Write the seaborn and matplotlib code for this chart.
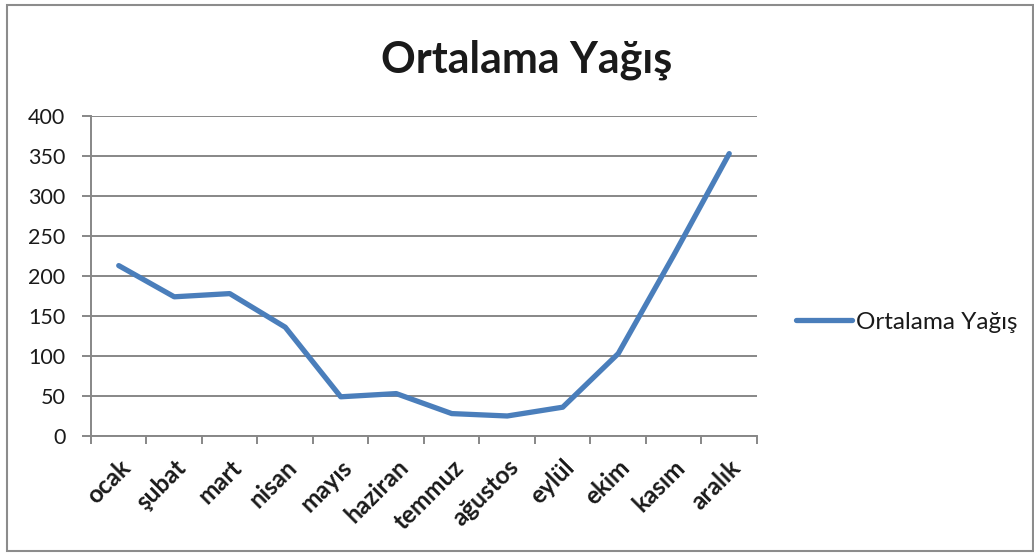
import pandas as pd
import matplotlib.pyplot as plt
import seaborn as sns
from matplotlib.patches import Rectangle

# veri
aylar = ['ocak', 'şubat', 'mart', 'nisan', 'mayıs', 'haziran',
         'temmuz', 'ağustos', 'eylül', 'ekim', 'kasım', 'aralık']
yagis = [213, 174, 178, 136, 49, 53, 28, 25, 36, 103, 226, 353]
y_ticks = [0, 50, 100, 150, 200, 250, 300, 350, 400]

df = pd.DataFrame({'ay': aylar, 'yagis': yagis})

sns.set_theme(style='whitegrid')
plt.rcParams['font.family'] = ['Lato', 'DejaVu Sans']
plt.rcParams['text.color'] = '#1a1a1a'

gri = '#878787'

fig = plt.figure(figsize=(10.34, 5.53), dpi=100)
ax = fig.add_axes([0.088, 0.2116, 0.6441, 0.5786])

sns.lineplot(data=df, x='ay', y='yagis', color='#4a7ebb', linewidth=3.8,
             label='Ortalama Yağış', sort=False, ax=ax)

ax.set_xlim(-0.5, len(aylar) - 0.5)
ax.set_ylim(0, 400)
ax.set_yticks(y_ticks)
ax.set_xticks(range(len(aylar)))
ax.set_xticklabels(aylar, rotation=45, ha='right', rotation_mode='anchor',
                   fontweight='bold')
ax.set_xticks([i - 0.5 for i in range(len(aylar) + 1)], minor=True)
ax.set_xlabel('')
ax.set_ylabel('')

# Excel benzeri eksenler
ax.xaxis.grid(False)
ax.yaxis.grid(True, color=gri, linewidth=1.4)
for s in ['top', 'right']:
    ax.spines[s].set_visible(False)
for s in ['left', 'bottom']:
    ax.spines[s].set_color(gri)
    ax.spines[s].set_linewidth(1.4)

ax.tick_params(axis='y', left=True, length=6.5, width=1.4, color=gri,
               labelsize=15.5, labelcolor='#1a1a1a', pad=12)
ax.tick_params(axis='x', which='major', bottom=False, length=0,
               labelsize=17.5, labelcolor='#1a1a1a', pad=14)
ax.tick_params(axis='x', which='minor', bottom=True, length=6, width=1.4, color=gri)

ax.legend(loc='center left', bbox_to_anchor=(0.770, 0.4177),
          bbox_transform=fig.transFigure, frameon=False, fontsize=17.5,
          handlelength=2.3, handletextpad=0.16, borderpad=0, borderaxespad=0)

fig.text(0.5097, 1 - 60 / 553, 'Ortalama Yağış', ha='center', va='center',
         fontsize=31, fontweight='bold')

# grafik alanı çerçevesi
fig.add_artist(Rectangle((0.0068, 0.004), 0.9925, 0.987, transform=fig.transFigure,
                         fill=False, edgecolor='#8c8c8c', linewidth=1.5))

fig.savefig('out.png', dpi=100)
